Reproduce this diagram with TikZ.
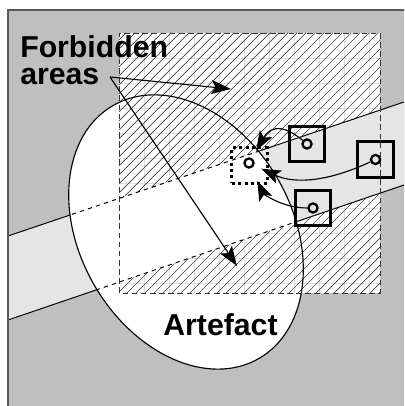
\documentclass[tikz,border=0pt]{standalone}
\usepackage{fontspec}
\setmainfont{Liberation Sans}
\usetikzlibrary{arrows.meta}

\definecolor{bggray}{gray}{0.75}
\definecolor{bandgray}{gray}{0.9}
\definecolor{gridgray}{gray}{0.87}
\definecolor{framegray}{gray}{0.35}

\tikzset{
  cell/.style={draw, line width=2.1pt, minimum size=25pt, inner sep=0},
  target/.style={draw, dash pattern=on 2.2pt off 2.3pt, line width=2.2pt, minimum size=25pt, inner sep=0},
  hole/.style={draw, circle, line width=1.6pt, minimum size=6.5pt, inner sep=0},
  pointer/.style={line width=0.8pt, -{Stealth[length=14pt,width=10pt,inset=3pt]}},
  bigtext/.style={font=\bfseries\fontsize{21.5}{19.5}\selectfont, inner sep=0}
}

\begin{document}
\begin{tikzpicture}[x=0.025cm, y=0.025cm]
  \useasboundingbox (0,0) rectangle (404,406);
  \clip (0,0) rectangle (404,406);

  % grey ground, light band and the artefact
  \fill[bggray] (8,-10) rectangle (420,396);
  \fill[bandgray] (8,170) -- (410,306.03) -- (410,223.05) -- (8,86) -- cycle;
  \fill[white] (186,174) ellipse [x radius=146, y radius=106, rotate=-60];

  % hatched square
  \begin{scope}
  \clip (119,113) rectangle (380,373);
  \fill[white] (119,113) rectangle (380,373);
  \foreach \i in {1,...,10} {
    \draw[gridgray, line width=0.4pt] (119+25*\i,113) -- (119+25*\i,373);
    \draw[gridgray, line width=0.4pt] (119,373-25*\i) -- (380,373-25*\i);
  }
  \foreach \k in {-260,-251,...,380}
    \draw[black!75, line width=0.5pt] (\k,113) -- (\k+260,373);
  \end{scope}

  % the band runs clear through it
  \fill[bandgray] (119,123.84) -- (380,212.82) -- (380,295.88) -- (119,207.56) -- cycle;
  \begin{scope}
  \clip (186,174) ellipse [x radius=146, y radius=106, rotate=-60];
  \fill[white] (119,123.84) -- (380,212.82) -- (380,295.88) -- (119,207.56) -- cycle;
  \end{scope}

  % band edges: solid outside the artefact, dashed inside
  \begin{scope}[even odd rule]
  \clip (0,0) rectangle (404,406)
        (186,174) ellipse [x radius=146, y radius=106, rotate=-60];
  \draw[line width=0.7pt] (8,170) -- (410,306.03);
  \draw[line width=0.7pt] (8,86) -- (410,223.05);
  \end{scope}
  \begin{scope}
  \clip (186,174) ellipse [x radius=146, y radius=106, rotate=-60];
  \draw[dashed, line width=0.7pt] (8,170) -- (410,306.03);
  \draw[dashed, line width=0.7pt] (8,86) -- (410,223.05);
  \end{scope}

  \draw[line width=0.8pt] (186,174) ellipse [x radius=146, y radius=106, rotate=-60];
  \draw[black!80, line width=0.6pt, dash pattern=on 4pt off 2.5pt] (119,113) rectangle (380,373);
  \draw[framegray, line width=1.2pt] (8,-10) -- (8,396) -- (420,396);

  % squares with their pins
  \node[cell] (box1) at (307,262) {};
  \node[hole] (dot1) at (307,262) {};
  \node[cell] (box2) at (375.5,246.5) {};
  \node[hole] (dot2) at (375.5,246.5) {};
  \node[cell] (box3) at (313,198) {};
  \node[hole] (dot3) at (313,198) {};
  \node[target] (goal) at (249.5,240.5) {};
  \node[hole] (dot0) at (249,243) {};

  \draw[pointer, shorten >=6pt] (dot1) to[out=140, in=60, looseness=1.5] (dot0);
  \draw[pointer, shorten >=5.5pt] (dot2) to[out=205, in=-25] (dot0);
  \draw[pointer, shorten >=10pt] (dot3) to[out=180, in=-65] (dot0);

  % labels
  \node[bigtext, align=left, anchor=north west] (forbid) at (20,371) {Forbidden\\areas};
  \coordinate (fa) at (110,329);
  \coordinate (fup) at (231,317);
  \coordinate (fdown) at (237,140);
  \draw[pointer] (fa) -- (fup);
  \draw[pointer] (fa) -- (fdown);
  \node[bigtext, anchor=base] (art) at (220.5,70) {Artefact};
\end{tikzpicture}
\end{document}
